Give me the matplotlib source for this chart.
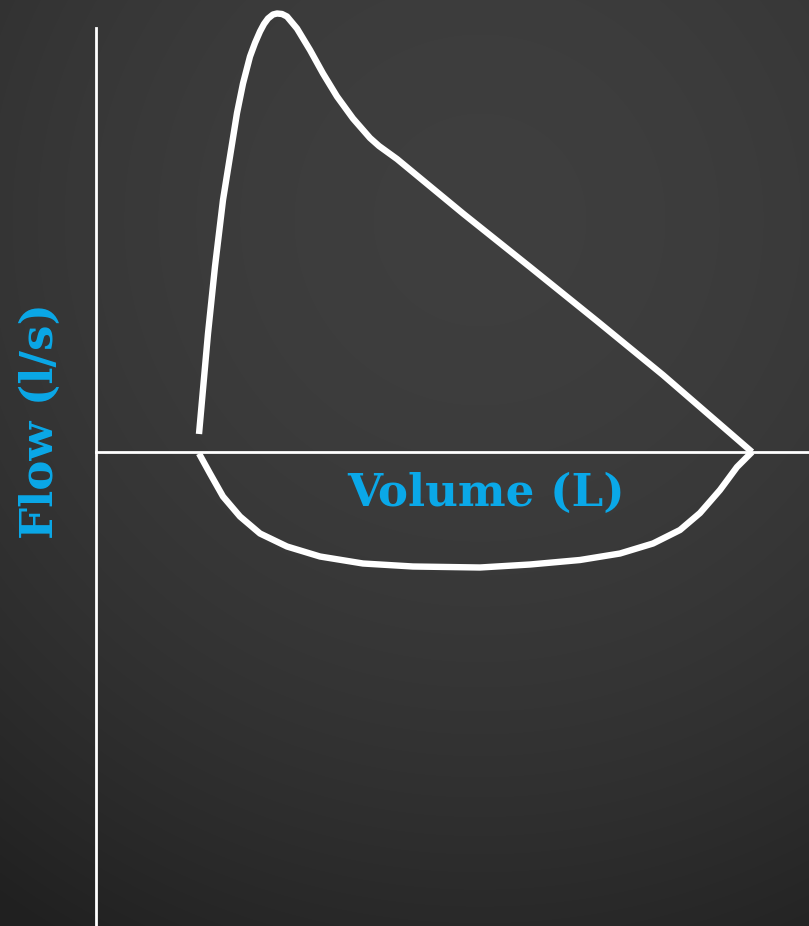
import numpy as np
import matplotlib.pyplot as plt

# flow-volume loop, volume in L, flow in L/s
exp_volume = [1.03, 1.12, 1.19, 1.27, 1.34, 1.41, 1.47, 1.54, 1.59, 1.64, 1.68,
              1.72, 1.77, 1.81, 1.86, 1.91, 2.01, 2.14, 2.27, 2.41, 2.57, 2.74,
              2.83, 2.92, 3.01, 3.67, 4.34, 5.01, 5.67, 6.56]
exp_flow = [0.36, 2.37, 3.71, 5.04, 5.91, 6.78, 7.37, 7.91, 8.18, 8.41, 8.56,
            8.67, 8.75, 8.77, 8.76, 8.71, 8.47, 8.04, 7.57, 7.11, 6.67, 6.28,
            6.12, 5.99, 5.86, 4.77, 3.70, 2.62, 1.54, 0.0]
insp_volume = [1.03, 1.14, 1.27, 1.44, 1.64, 1.91, 2.24, 2.67, 3.17, 3.84, 4.34,
               4.84, 5.24, 5.57, 5.84, 6.04, 6.24, 6.41, 6.56]
insp_flow = [-0.03, -0.43, -0.89, -1.29, -1.63, -1.89, -2.09, -2.23, -2.29,
             -2.31, -2.25, -2.16, -2.03, -1.83, -1.56, -1.22, -0.76, -0.30, 0.0]

vol_max = 7.13
flow_top = 8.48
xlim = (-0.96, 7.13)
ylim = (-9.48, 9.04)

label_color = "#0aa8e8"

fig = plt.figure(figsize=(8.09, 9.26), dpi=100)

# radial dark background
bg = fig.add_axes([0, 0, 1, 1])
yy, xx = np.mgrid[0:926, 0:809]
d = np.hypot(xx - 480, yy - 220)
shade = np.clip(0.248 - 1.7e-7 * d ** 2, 0.13, 0.25)
bg.imshow(shade, cmap="gray", vmin=0, vmax=1, aspect="auto")
bg.axis("off")

ax = fig.add_axes([0, 0, 1, 1])
ax.set_facecolor("none")
ax.set_xlim(*xlim)
ax.set_ylim(*ylim)
ax.axis("off")

ax.plot([0, 0], [ylim[0], flow_top], color="white", lw=2.0)
ax.plot([0, vol_max], [0, 0], color="white", lw=2.0)

ax.plot(exp_volume, exp_flow, color="white", lw=4.6, solid_capstyle="butt",
        solid_joinstyle="round")
ax.plot(insp_volume, insp_flow, color="white", lw=4.6, solid_capstyle="butt",
        solid_joinstyle="round")

ax.text(3.9, -0.82, "Volume (L)", color=label_color, fontsize=32.5,
        fontweight="bold", family="DejaVu Serif", ha="center", va="center")
ax.text(-0.56, 0.62, "Flow (l/s)", color=label_color, fontsize=32.5,
        fontweight="bold", family="DejaVu Serif", ha="center", va="center",
        rotation=90)

fig.savefig("out.png", dpi=100)
